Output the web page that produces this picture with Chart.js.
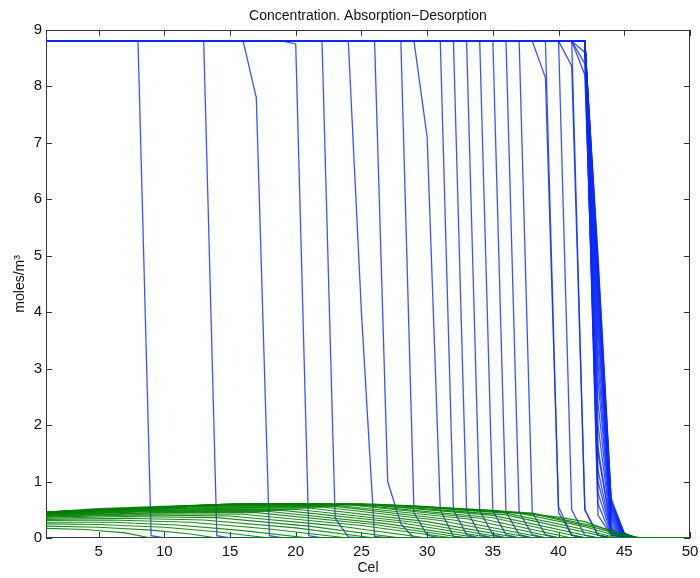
<!DOCTYPE html>
<html>
<head>
<meta charset="utf-8">
<script src="https://cdn.jsdelivr.net/npm/chart.js@4.4.1/dist/chart.umd.min.js"></script>
<style>
  html, body { margin: 0; padding: 0; background: #fff; }
  canvas { display: block; }
</style>
</head>
<body>
<canvas id="myLineChart" width="700" height="578"></canvas>
<script>
// tick labels
var xTicks = [5, 10, 15, 20, 25, 30, 35, 40, 45, 50];
var yTicks = [0, 1, 2, 3, 4, 5, 6, 7, 8, 9];

// liquid profiles (blue), [x, y] points
var blueEarly = [
  [[1, 8.8], [8, 8.8], [9, 0.04], [10, 0], [50, 0]],
  [[1, 8.8], [13, 8.8], [14, 0.04], [15, 0], [50, 0]],
  [[1, 8.8], [16, 8.8], [17, 7.8], [18, 0.04], [19, 0], [50, 0]],
  [[1, 8.8], [19, 8.8], [20, 8.75], [21, 0.04], [22, 0], [50, 0]],
  [[1, 8.8], [22, 8.8], [23, 0.35], [24, 0.02], [25, 0], [50, 0]],
  [[1, 8.8], [24, 8.8], [25, 4.0], [26, 0.03], [27, 0], [50, 0]],
  [[1, 8.8], [26, 8.8], [27, 1.0], [28, 0.25], [29, 0], [50, 0]],
  [[1, 8.8], [28, 8.8], [29, 0.45], [30, 0.05], [31, 0], [50, 0]],
  [[1, 8.8], [29, 8.8], [30, 7.1], [31, 0.5], [32, 0.03], [33, 0], [50, 0]]
];

var blueMid = [
  [[1, 8.8], [31, 8.8], [32, 0.5], [33, 0.06], [34, 0], [50, 0]],
  [[1, 8.8], [32, 8.8], [33, 0.5], [34, 0.06], [35, 0], [50, 0]],
  [[1, 8.8], [33, 8.8], [34, 0.48], [35, 0.06], [36, 0], [50, 0]],
  [[1, 8.8], [34, 8.8], [35, 0.48], [36, 0.06], [37, 0], [50, 0]],
  [[1, 8.8], [35, 8.8], [36, 0.46], [37, 0.06], [38, 0], [50, 0]],
  [[1, 8.8], [36, 8.8], [37, 0.46], [38, 0.06], [39, 0], [50, 0]],
  [[1, 8.8], [37, 8.8], [38, 0.45], [39, 0.06], [40, 0], [50, 0]],
  [[1, 8.8], [38, 8.8], [39, 8.15], [40, 0.55], [41, 0.05], [42, 0], [50, 0]],
  [[1, 8.8], [39, 8.8], [40, 0.45], [41, 0.05], [42, 0], [50, 0]],
  [[1, 8.8], [40, 8.8], [41, 0.5], [42, 0.05], [43, 0], [50, 0]],
  [[1, 8.8], [40, 8.8], [41, 8.36], [42, 0.5], [43, 0.05], [44, 0], [50, 0]],
  [[1, 8.8], [41, 8.8], [42, 0.5], [43, 0.05], [44, 0], [50, 0]],
  [[1, 8.8], [41, 8.8], [42, 8.6], [43, 0.6], [44, 0.05], [45, 0], [50, 0]],
  [[1, 8.8], [41, 8.8], [42, 8.4], [43, 1.0], [44, 0.1], [45, 0], [50, 0]],
  [[1, 8.8], [41, 8.8], [42, 8.2], [43, 1.5], [44, 0.15], [45, 0.02], [46, 0], [50, 0]]
];

// steady front near x = 42..45
var blueWedge = [
  [[1, 8.8], [42, 8.8], [43, 0.4], [44, 0.05], [45, 0.02], [46, 0], [50, 0]],
  [[1, 8.8], [42, 8.8], [43, 0.8], [44, 0.08], [45, 0.02], [46, 0], [50, 0]],
  [[1, 8.8], [42, 8.8], [43, 1.2], [44, 0.11], [45, 0.03], [46, 0], [50, 0]],
  [[1, 8.8], [42, 8.8], [43, 1.6], [44, 0.14], [45, 0.03], [46, 0], [50, 0]],
  [[1, 8.8], [42, 8.8], [43, 2.0], [44, 0.17], [45, 0.03], [46, 0], [50, 0]],
  [[1, 8.8], [42, 8.8], [43, 2.4], [44, 0.2], [45, 0.04], [46, 0], [50, 0]],
  [[1, 8.8], [42, 8.8], [43, 2.8], [44, 0.24], [45, 0.04], [46, 0], [50, 0]],
  [[1, 8.8], [42, 8.8], [43, 3.1], [44, 0.28], [45, 0.04], [46, 0], [50, 0]],
  [[1, 8.8], [42, 8.8], [43, 3.4], [44, 0.32], [45, 0.05], [46, 0], [50, 0]],
  [[1, 8.8], [42, 8.8], [43, 3.7], [44, 0.36], [45, 0.05], [46, 0], [50, 0]],
  [[1, 8.8], [42, 8.8], [43, 3.9], [44, 0.4], [45, 0.05], [46, 0], [50, 0]],
  [[1, 8.8], [42, 8.8], [43, 4.1], [44, 0.44], [45, 0.06], [46, 0], [50, 0]],
  [[1, 8.8], [42, 8.8], [43, 4.3], [44, 0.48], [45, 0.06], [46, 0], [50, 0]],
  [[1, 8.8], [42, 8.8], [43, 4.5], [44, 0.52], [45, 0.06], [46, 0], [50, 0]],
  [[1, 8.8], [42, 8.8], [43, 4.6], [44, 0.56], [45, 0.07], [46, 0], [50, 0]],
  [[1, 8.8], [42, 8.8], [43, 4.7], [44, 0.6], [45, 0.07], [46, 0], [50, 0]],
  [[1, 8.8], [42, 8.8], [43, 4.8], [44, 0.63], [45, 0.07], [46, 0], [50, 0]],
  [[1, 8.8], [42, 8.8], [43, 4.9], [44, 0.66], [45, 0.08], [46, 0], [50, 0]],
  [[1, 8.8], [42, 8.8], [43, 5.0], [44, 0.7], [45, 0.08], [46, 0], [50, 0]]
];

// solid-phase profiles (green)
var greenLow = [
  [[1, 0.17], [4, 0.15], [7, 0.09], [9, 0], [50, 0]],
  [[1, 0.21], [5, 0.19], [9, 0.14], [12, 0.07], [14, 0], [50, 0]],
  [[1, 0.25], [5, 0.24], [10, 0.19], [14, 0.11], [18, 0], [50, 0]],
  [[1, 0.28], [6, 0.28], [11, 0.23], [16, 0.13], [21, 0], [50, 0]],
  [[1, 0.31], [6, 0.32], [12, 0.28], [18, 0.16], [24, 0], [50, 0]],
  [[1, 0.33], [7, 0.35], [13, 0.32], [20, 0.18], [26, 0], [50, 0]],
  [[1, 0.35], [7, 0.38], [14, 0.36], [21, 0.21], [28, 0], [50, 0]],
  [[1, 0.37], [8, 0.41], [15, 0.39], [23, 0.22], [30, 0], [50, 0]],
  [[1, 0.38], [8, 0.43], [16, 0.42], [25, 0.22], [32, 0], [50, 0]],
  [[1, 0.39], [9, 0.45], [17, 0.45], [26, 0.24], [33, 0], [50, 0]],
  [[1, 0.4], [9, 0.47], [18, 0.47], [27, 0.25], [34, 0], [50, 0]],
  [[1, 0.41], [10, 0.49], [19, 0.49], [28, 0.27], [35, 0], [50, 0]],
  [[1, 0.42], [10, 0.5], [20, 0.51], [29, 0.28], [36, 0], [50, 0]]
];

var greenHigh = [
  [[1, 0.43], [11, 0.52], [21, 0.53], [30, 0.29], [37, 0], [50, 0]],
  [[1, 0.44], [11, 0.53], [22, 0.55], [31, 0.31], [38, 0], [50, 0]],
  [[1, 0.44], [12, 0.55], [23, 0.56], [32, 0.32], [39, 0], [50, 0]],
  [[1, 0.45], [12, 0.56], [23, 0.58], [33, 0.34], [40, 0], [50, 0]],
  [[1, 0.45], [13, 0.57], [24, 0.59], [34, 0.35], [41, 0], [50, 0]],
  [[1, 0.46], [13, 0.58], [24, 0.6], [35, 0.36], [42, 0], [50, 0]],
  [[1, 0.46], [14, 0.59], [25, 0.6], [35, 0.4], [43, 0], [50, 0]],
  [[1, 0.46], [15, 0.6], [25, 0.6], [36, 0.41], [44, 0], [50, 0]],
  [[1, 0.46], [15, 0.6], [26, 0.6], [36, 0.44], [41, 0.2], [44.5, 0], [50, 0]],
  [[1, 0.46], [16, 0.6], [27, 0.59], [37, 0.44], [42, 0.2], [45, 0], [50, 0]],
  [[1, 0.46], [17, 0.61], [28, 0.58], [38, 0.43], [43, 0.17], [45.5, 0], [50, 0]],
  [[1, 0.46], [18, 0.61], [29, 0.57], [38, 0.44], [43, 0.2], [46, 0], [50, 0]],
  [[1, 0.46], [5, 0.52], [10, 0.56], [15, 0.6], [20, 0.61], [25, 0.6], [30, 0.55], [35, 0.49], [40, 0.37], [42, 0.29], [44, 0.12], [45, 0.05], [46.5, 0], [50, 0]]
];

var labelFont = { family: "'Liberation Sans', Arial, sans-serif", size: 15 };
var titleFont = { family: "'Liberation Sans', Arial, sans-serif", size: 14, weight: "normal", lineHeight: 1.2 };

function toSet(pts, color, width, order) {
  return {
    data: pts.map(function (p) { return { x: p[0], y: p[1] }; }),
    borderColor: color,
    borderWidth: width,
    pointRadius: 0,
    tension: 0,
    fill: false,
    order: order
  };
}

var datasets = [];
blueEarly.concat(blueMid, blueWedge).forEach(function (p) { datasets.push(toSet(p, "rgba(10,40,255,0.8)", 1.3, 2)); });
greenLow.concat(greenHigh).forEach(function (p) { datasets.push(toSet(p, "rgba(0,128,0,0.9)", 1.1, 1)); });

// matlab style box with inward ticks
var boxPlugin = {
  id: "box",
  beforeDatasetsDraw: function (chart) {
    var c = chart.ctx, a = chart.chartArea;
    var xs = chart.scales.x, ys = chart.scales.y;
    c.save();
    c.strokeStyle = "#333";
    c.lineWidth = 1;
    c.strokeRect(Math.round(a.left) + 0.5, Math.round(a.top) + 0.5,
      Math.round(a.right - a.left) - 1, Math.round(a.bottom - a.top) - 1);
    c.beginPath();
    xTicks.forEach(function (v) {
      var px = Math.round(xs.getPixelForValue(v)) + 0.5;
      c.moveTo(px, a.bottom); c.lineTo(px, a.bottom - 6);
      c.moveTo(px, a.top); c.lineTo(px, a.top + 6);
    });
    yTicks.forEach(function (v) {
      var py = Math.round(ys.getPixelForValue(v)) + 0.5;
      c.moveTo(a.left, py); c.lineTo(a.left + 6, py);
      c.moveTo(a.right, py); c.lineTo(a.right - 6, py);
    });
    c.stroke();
    c.restore();
  }
};

var ctx = document.getElementById("myLineChart");
var myLineChart = new Chart(ctx, {
  type: "line",
  data: { datasets: datasets },
  plugins: [boxPlugin],
  options: {
    responsive: false,
    animation: false,
    devicePixelRatio: 1,
    layout: { padding: { top: 0, right: 10, bottom: 0, left: 0 } },
    plugins: {
      legend: { display: false },
      tooltip: { enabled: false },
      title: {
        display: true,
        fullSize: false,
        text: "Concentration. Absorption\u2212Desorption",
        color: "#111",
        font: titleFont,
        padding: { top: 8, bottom: 5 }
      }
    },
    scales: {
      x: {
        type: "linear",
        min: 1,
        max: 50,
        afterBuildTicks: function (s) { s.ticks = xTicks.map(function (v) { return { value: v }; }); },
        afterFit: function (s) { s.height = 40; s.paddingRight = 0; },
        grid: { display: false, drawTicks: false },
        border: { display: false },
        ticks: { color: "#111", font: labelFont, padding: 5, maxRotation: 0, autoSkip: false },
        title: { display: true, text: "Cel", color: "#111", font: titleFont, padding: { top: 0, bottom: 1 } }
      },
      y: {
        type: "linear",
        min: 0,
        max: 9,
        afterBuildTicks: function (s) { s.ticks = yTicks.map(function (v) { return { value: v }; }); },
        afterFit: function (s) { s.width = 46; },
        grid: { display: false, drawTicks: false },
        border: { display: false },
        ticks: { color: "#111", font: labelFont, padding: 4, autoSkip: false },
        title: { display: true, text: "moles/m\u00b3", color: "#111", font: titleFont, padding: { top: 12, bottom: 0 } }
      }
    }
  }
});
</script>
</body>
</html>
